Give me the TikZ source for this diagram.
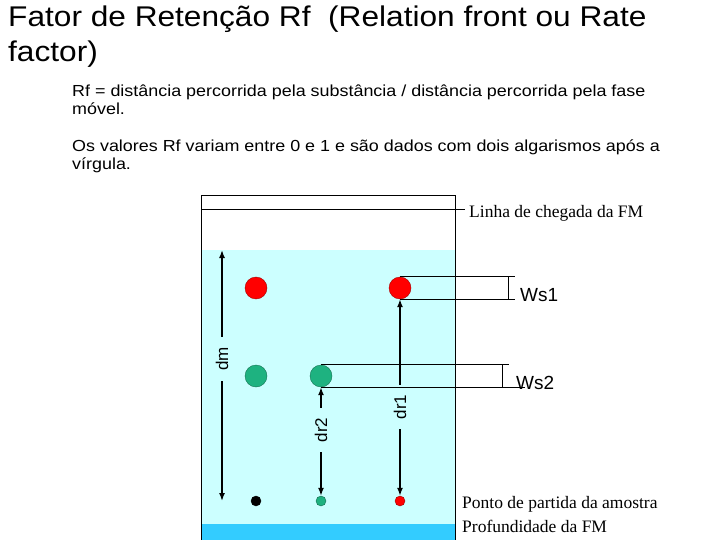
\documentclass[tikz,border=0pt]{standalone}
\usepackage{fontspec}
\setmainfont{Liberation Serif}
\setsansfont{Liberation Sans}
\newfontfamily\arialtitulo[FakeStretch=1.11]{Liberation Sans}
\newfontfamily\arialtexto[FakeStretch=1.12]{Liberation Sans}
\usetikzlibrary{arrows.meta}
\usetikzlibrary{positioning}
\definecolor{eluente}{RGB}{204,255,255}
\definecolor{cuba}{RGB}{51,204,255}
\definecolor{verdemancha}{RGB}{30,178,128}
\definecolor{vermelhomancha}{RGB}{255,0,0}
\tikzset{
  titulo/.style={anchor=base west, inner sep=0pt, font=\arialtitulo\fontsize{28.5}{34}\selectfont},
  texto/.style={anchor=base west, inner sep=0pt, font=\arialtexto\fontsize{16}{18}\selectfont},
  legenda/.style={anchor=base west, inner sep=0pt, font=\rmfamily\fontsize{17.5}{20}\selectfont},
  rotulo/.style={anchor=base west, inner sep=0pt, font=\sffamily\fontsize{19}{19}\selectfont},
  cota/.style={rotate=90, inner xsep=10pt, inner ysep=1pt, font=\sffamily\fontsize{17}{17}\selectfont},
  seta/.style={line width=1.5pt, -{Latex[length=8pt, width=6pt]}},
  mancha/.style={circle, minimum size=22pt, inner sep=0pt, draw=#1!65!black, fill=#1},
  ponto/.style={circle, minimum size=10pt, inner sep=0pt, draw=#1!60!black, fill=#1},
}

\begin{document}
\begin{tikzpicture}[x=1pt, y=-1pt]
  \useasboundingbox (0,0) rectangle (720,540);
  % textos
  \node[titulo] (tit1) at (8,27) {Fator de Retenção Rf\ \ (Relation front ou Rate};
  \node[titulo] (tit2) at (8,62) {factor)};
  \node[texto] (def1) at (72,97) {Rf = distância percorrida pela substância / distância percorrida pela fase};
  \node[texto] (def2) at (72,115) {móvel.};
  \node[texto] (val1) at (72,152) {Os valores Rf variam entre 0 e 1 e são dados com dois algarismos após a};
  \node[texto] (val2) at (72,170) {vírgula.};

  % placa
  \fill[eluente] (201,250) rectangle (455,540);
  \fill[cuba] (201,524) rectangle (455,540);
  \draw[line width=1pt] (201,540) -- (201,196) -- (455,196) -- (455,540);
  \draw[line width=1pt] (201,210) -- (465,210);
  \node[legenda] (chegada) at (469,218) {Linha de chegada da FM};
  \node[legenda] (partida) at (462,508) {Ponto de partida da amostra};
  \node[legenda] (profund) at (462,532) {Profundidade da FM};

  % manchas
  \node[mancha=vermelhomancha] (verm1) at (256,288) {};
  \node[mancha=vermelhomancha] (verm2) at (400,288) {};
  \node[mancha=verdemancha] (verde1) at (256,376) {};
  \node[mancha=verdemancha] (verde2) at (321,376) {};
  \node[ponto=black] (ppreto) at (256,501) {};
  \node[ponto=verdemancha] (pverde) at (321,501) {};
  \node[ponto=vermelhomancha] (pverm) at (400,501) {};

  % distancias
  \coordinate (dmtopo) at (222,250);
  \coordinate (dmbase) at (222,501);
  \node[cota] (dm) at (222,359) {dm};
  \draw[seta] (dm) -- (dmtopo);
  \draw[seta] (dm) -- (dmbase);
  \node[cota] (dr2) at (321,430) {dr2};
  \draw[seta] (dr2) -- (verde2.south);
  \draw[seta] (dr2) -- (pverde.north);
  \node[cota] (dr1) at (400,407) {dr1};
  \draw[seta] (dr1) -- (verm2.south);
  \draw[seta] (dr1) -- (pverm.north);

  % larguras das manchas
  \draw[line width=0.8pt] (verm2.north) -- ++(115,0);
  \draw[line width=0.8pt] (verm2.south) -- ++(115,0);
  \draw[line width=0.8pt] ([xshift=108]verm2.north) -- ([xshift=108]verm2.south);
  \node[rotulo] (ws1) at (520,301) {Ws1};
  \draw[line width=0.8pt] (verde2.north) -- ++(188,0);
  \draw[line width=0.8pt] (verde2.south) -- ++(204,0);
  \draw[line width=0.8pt] ([xshift=181]verde2.north) -- ([xshift=181]verde2.south);
  \node[rotulo] (ws2) at (516,389) {Ws2};
\end{tikzpicture}
\end{document}
